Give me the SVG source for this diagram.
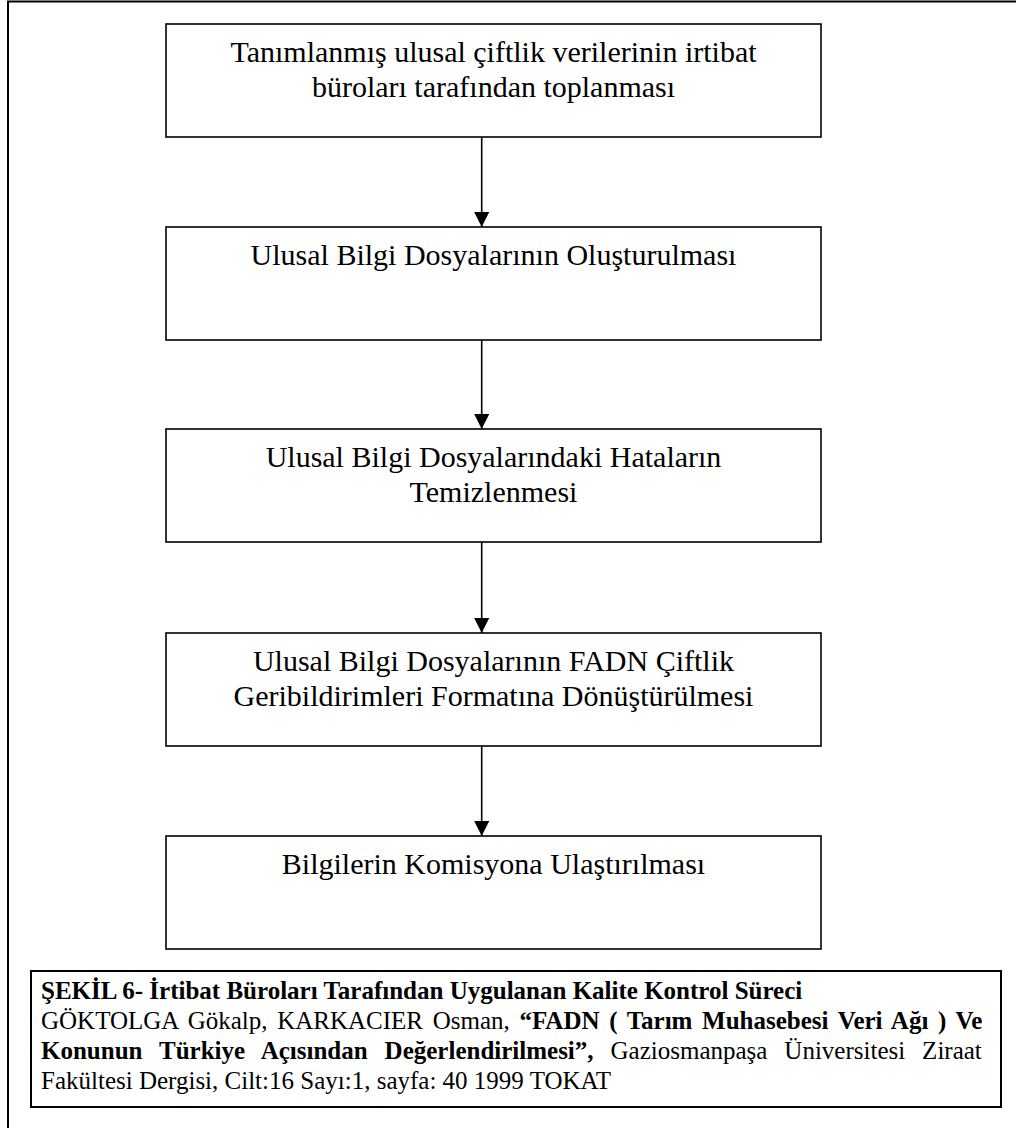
<svg xmlns="http://www.w3.org/2000/svg" width="1016" height="1128" viewBox="0 0 1016 1128">
  <defs>
    <marker id="arrowhead" markerWidth="16" markerHeight="16" refX="15" refY="7.5" orient="auto" markerUnits="userSpaceOnUse">
      <path d="M0,0 L15,7.5 L0,15 Z" fill="#000"/>
    </marker>
    <style>
      .frame { fill: none; stroke: #000; stroke-width: 2; }
      .step rect { fill: #fff; stroke: #000; stroke-width: 1.6; }
      .step text { font-family: "Liberation Serif", "Times New Roman", serif; font-size: 30px; fill: #000; text-anchor: middle; }
      .caption rect { fill: #fff; stroke: #000; stroke-width: 2; }
      .caption text { font-family: "Liberation Serif", "Times New Roman", serif; font-size: 25px; fill: #000; }
      .b { font-weight: bold; }
      .link { stroke: #000; stroke-width: 1.6; fill: none; marker-end: url(#arrowhead); }
    </style>
  </defs>

  <rect width="1016" height="1128" fill="#fff"/>

  <!-- page frame: only the left and top edges fall inside the sheet -->
  <path class="frame" d="M8,1128 V1.5 H1016"/>

  <g id="step1" class="step">
    <rect x="166" y="24" width="655" height="113"/>
    <text x="493.5" y="61.5">Tanımlanmış ulusal çiftlik verilerinin irtibat</text>
    <text x="493.5" y="96.5">büroları tarafından toplanması</text>
  </g>

  <g id="step2" class="step">
    <rect x="166" y="227" width="655" height="113"/>
    <text x="493.5" y="264.5">Ulusal Bilgi Dosyalarının Oluşturulması</text>
  </g>

  <g id="step3" class="step">
    <rect x="166" y="429" width="655" height="113"/>
    <text x="493.5" y="466.5">Ulusal Bilgi Dosyalarındaki Hataların</text>
    <text x="493.5" y="501.5">Temizlenmesi</text>
  </g>

  <g id="step4" class="step">
    <rect x="166" y="633" width="655" height="113"/>
    <text x="493.5" y="670.5">Ulusal Bilgi Dosyalarının FADN Çiftlik</text>
    <text x="493.5" y="705.5">Geribildirimleri Formatına Dönüştürülmesi</text>
  </g>

  <g id="step5" class="step">
    <rect x="166" y="836" width="655" height="113"/>
    <text x="493.5" y="873.5">Bilgilerin Komisyona Ulaştırılması</text>
  </g>

  <g id="connectors">
    <line class="link" x1="481.7" y1="137" x2="481.7" y2="227"/>
    <line class="link" x1="481.7" y1="340" x2="481.7" y2="429"/>
    <line class="link" x1="481.7" y1="542" x2="481.7" y2="633"/>
    <line class="link" x1="481.7" y1="746" x2="481.7" y2="836"/>
  </g>

  <!-- figure caption with source reference; lines 2 and 3 are justified -->
  <g id="caption" class="caption">
    <rect x="31" y="971" width="970" height="136"/>
    <text x="41" y="999" class="b">ŞEKİL 6- İrtibat Büroları Tarafından Uygulanan Kalite Kontrol Süreci</text>
    <text x="41" y="1029" word-spacing="3.4">GÖKTOLGA Gökalp, KARKACIER Osman, <tspan class="b">“FADN ( Tarım Muhasebesi Veri Ağı ) Ve</tspan></text>
    <text x="41" y="1059" word-spacing="10.7"><tspan class="b">Konunun Türkiye Açısından Değerlendirilmesi”,</tspan> Gaziosmanpaşa Üniversitesi Ziraat</text>
    <text x="41" y="1089">Fakültesi Dergisi, Cilt:16 Sayı:1, sayfa: 40 1999 TOKAT</text>
  </g>
</svg>
